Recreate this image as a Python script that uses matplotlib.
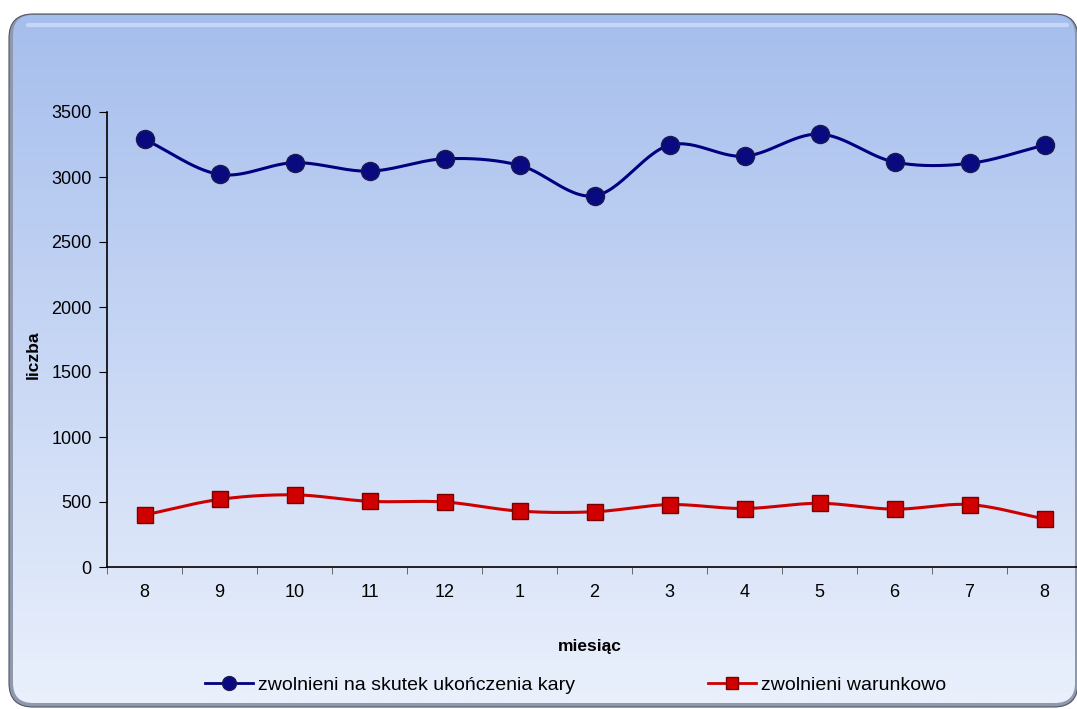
import numpy as np
import matplotlib
matplotlib.use("Agg")
import matplotlib.pyplot as plt
from matplotlib.patches import FancyBboxPatch
from matplotlib.lines import Line2D

plt.rcParams['font.family'] = ['Liberation Sans', 'DejaVu Sans']

# ---------------------------
# Data
# ---------------------------
months = ["8", "9", "10", "11", "12", "1", "2", "3", "4", "5", "6", "7", "8"]
ukonczenie_kary = [3290, 3020, 3110, 3045, 3140, 3090, 2855, 3245, 3160, 3330, 3115, 3105, 3245]
warunkowo = [400, 520, 555, 505, 500, 430, 425, 480, 450, 490, 445, 480, 370]

label_blue = "zwolnieni na skutek ukończenia kary"
label_red = "zwolnieni warunkowo"


def smooth(xs, ys, n=30):
    # catmull-rom curve through the points, like Excel's smoothed line
    xs = np.asarray(xs, float)
    ys = np.asarray(ys, float)
    px = np.concatenate([[2 * xs[0] - xs[1]], xs, [2 * xs[-1] - xs[-2]]])
    py = np.concatenate([[2 * ys[0] - ys[1]], ys, [2 * ys[-1] - ys[-2]]])
    out_x, out_y = [], []
    t = np.linspace(0, 1, n)
    for i in range(1, len(px) - 2):
        for p, out in ((px, out_x), (py, out_y)):
            p0, p1, p2, p3 = p[i - 1], p[i], p[i + 1], p[i + 2]
            seg = 0.5 * ((2 * p1) + (-p0 + p2) * t + (2 * p0 - 5 * p1 + 4 * p2 - p3) * t ** 2
                         + (-p0 + 3 * p1 - 3 * p2 + p3) * t ** 3)
            out.extend(seg)
    return np.array(out_x), np.array(out_y)


W, H = 1077, 709
fig = plt.figure(figsize=(W / 100, H / 100), dpi=100)
fig.patch.set_facecolor("white")

# ---------------------------
# Panel background with bevel + gradient
# ---------------------------
bg = fig.add_axes([0, 0, 1, 1], zorder=0)
bg.set_xlim(0, W)
bg.set_ylim(0, H)
bg.axis("off")

outer = FancyBboxPatch((9, 2), W - 8, H - 16, boxstyle="round,pad=0,rounding_size=24",
                       facecolor="#8f99ab", edgecolor="#4e5666", linewidth=0.8)
bg.add_patch(outer)
inner = FancyBboxPatch((13, 6), W - 15, H - 21, boxstyle="round,pad=0,rounding_size=20",
                       facecolor="none", edgecolor="none")
bg.add_patch(inner)
top = np.array([166, 190, 237]) / 255
bottom = np.array([234, 240, 252]) / 255
grad = np.linspace(0, 1, 256)[:, None]
img = bottom + (top - bottom) * grad
img = img[:, None, :].repeat(2, axis=1)
im = bg.imshow(img, extent=(13, W - 2, 6, H - 15), origin="lower", aspect="auto", zorder=1)
im.set_clip_path(inner)
# light highlight along the top edge
bg.plot([28, W - 10], [H - 25, H - 25], color="#d2e3fb", lw=3, alpha=0.7,
        solid_capstyle="round", zorder=2)

# ---------------------------
# Chart
# ---------------------------
ax = fig.add_axes([107 / W, (H - 567) / H, (1082 - 107) / W, (567 - 112) / H], zorder=2)
ax.patch.set_alpha(0)
x = np.arange(len(months))

sx, sy = smooth(x, ukonczenie_kary)
ax.plot(sx, sy, color="#000080", lw=2.2, zorder=3)
ax.plot(x, ukonczenie_kary, "o", ms=13, mfc="#0a0a80", mec="#1a1a50", mew=1, zorder=4)

sx, sy = smooth(x, warunkowo)
ax.plot(sx, sy, color="#cc0000", lw=2.2, zorder=3)
ax.plot(x, warunkowo, "s", ms=12, mfc="#d00000", mec="#7a0000", mew=1, zorder=4)

ax.set_xlim(-0.5, len(months) - 0.5)
ax.set_ylim(0, 3500)
ax.set_yticks(range(0, 3501, 500))
ax.set_xticks(x)
ax.set_xticklabels(months)
ax.set_xticks(np.arange(-0.5, len(months), 1), minor=True)
ax.tick_params(axis="x", which="major", length=0, pad=12, labelsize=13)
ax.tick_params(axis="x", which="minor", length=5, direction="out", color="#555555")
ax.tick_params(axis="y", length=6, direction="out", labelsize=13, pad=5)
for s in ("top", "right"):
    ax.spines[s].set_visible(False)
ax.spines["left"].set_linewidth(1.2)
ax.spines["bottom"].set_linewidth(1.2)

fig.text(33 / W, 1 - 355 / H, "liczba", rotation=90, ha="center", va="center",
         fontsize=12.5, fontweight="bold")
fig.text(590 / W, 1 - 647 / H, "miesiąc", ha="center", va="center",
         fontsize=12.5, fontweight="bold")

h1 = Line2D([], [], color="#000080", lw=2, marker="o", ms=10, mfc="#0a0a80", mec="#1a1a50")
h2 = Line2D([], [], color="#cc0000", lw=2, marker="s", ms=9, mfc="#d00000", mec="#7a0000")
fig.legend([h1], [label_blue], loc="center left", bbox_to_anchor=(187 / W, 1 - 685 / H),
           frameon=False, fontsize=14, handlelength=2.5, handletextpad=0.25)
fig.legend([h2], [label_red], loc="center left", bbox_to_anchor=(690 / W, 1 - 685 / H),
           frameon=False, fontsize=14, handlelength=2.5, handletextpad=0.25)

fig.savefig("out.png", dpi=100)
